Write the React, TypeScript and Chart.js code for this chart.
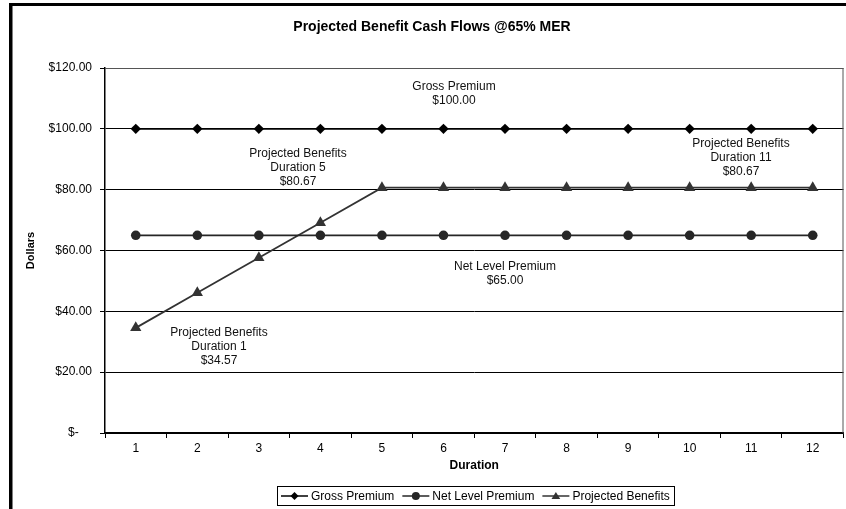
import React, { useEffect, useRef } from "react";
import { Chart, registerables } from "chart.js";

Chart.register(...registerables);

// Policy durations on the x axis
const durations = ["1", "2", "3", "4", "5", "6", "7", "8", "9", "10", "11", "12"];

// Annual cash flows per policy, dollars
const grossPremium = [100, 100, 100, 100, 100, 100, 100, 100, 100, 100, 100, 100];
const netLevelPremium = [65, 65, 65, 65, 65, 65, 65, 65, 65, 65, 65, 65];
const projectedBenefits = [34.57, 46.1, 57.62, 69.15, 80.67, 80.67, 80.67, 80.67, 80.67, 80.67, 80.67, 80.67];

const yMin = 0;
const yMax = 120;
const yStep = 20;

const FONT = "'Liberation Sans', Arial, Helvetica, sans-serif";

const money = (v: number) => "$" + v.toFixed(2);

function drawMarker(ctx: CanvasRenderingContext2D, kind: string, x: number, y: number, r: number, color: string) {
  ctx.save();
  ctx.fillStyle = color;
  ctx.beginPath();
  if (kind === "diamond") {
    ctx.moveTo(x, y - r);
    ctx.lineTo(x + r, y);
    ctx.lineTo(x, y + r);
    ctx.lineTo(x - r, y);
  } else if (kind === "circle") {
    ctx.arc(x, y, r, 0, Math.PI * 2);
  } else {
    ctx.moveTo(x, y - r);
    ctx.lineTo(x + r * 1.1, y + r * 0.75);
    ctx.lineTo(x - r * 1.1, y + r * 0.75);
  }
  ctx.closePath();
  ctx.fill();
  ctx.restore();
}

const decorPlugin = {
  id: "benefitDecor",
  afterDraw(chart: any) {
    const ctx: CanvasRenderingContext2D = chart.ctx;
    const area = chart.chartArea;
    ctx.save();

    // outer frame (left and top edges)
    ctx.fillStyle = "#000";
    ctx.fillRect(9, 3, chart.width - 9, 3);
    ctx.fillRect(9, 3, 3.5, chart.height - 3);

    // plot area outline on top and right
    ctx.strokeStyle = "#555";
    ctx.lineWidth = 1;
    ctx.beginPath();
    ctx.moveTo(area.left, area.top + 0.5);
    ctx.lineTo(area.right - 0.5, area.top + 0.5);
    ctx.lineTo(area.right - 0.5, area.bottom);
    ctx.stroke();

    // title
    ctx.fillStyle = "#000";
    ctx.textAlign = "center";
    ctx.textBaseline = "middle";
    ctx.font = `bold 14px ${FONT}`;
    ctx.fillText("Projected Benefit Cash Flows @65% MER", 432, 27);

    // axis titles
    ctx.font = `bold 12px ${FONT}`;
    ctx.fillText("Duration", (area.left + area.right) / 2, 466);
    ctx.save();
    ctx.font = `bold 11px ${FONT}`;
    ctx.translate(31, (area.top + area.bottom) / 2);
    ctx.rotate(-Math.PI / 2);
    ctx.fillText("Dollars", 0, 0);
    ctx.restore();

    // value call-outs
    ctx.font = `12px ${FONT}`;
    ctx.fillStyle = "#111";
    const note = (lines: string[], x: number, y: number) => {
      lines.forEach((t, i) => ctx.fillText(t, x, y + i * 14));
    };
    note(["Gross Premium", money(grossPremium[0])], 454, 87);
    note(["Projected Benefits", "Duration 5", money(projectedBenefits[4])], 298, 154);
    note(["Projected Benefits", "Duration 11", money(projectedBenefits[10])], 741, 144);
    note(["Net Level Premium", money(netLevelPremium[0])], 505, 267);
    note(["Projected Benefits", "Duration 1", money(projectedBenefits[0])], 219, 333);

    // legend
    const items = chart.data.datasets.map((ds: any) => ({
      label: ds.label,
      color: ds.borderColor,
      kind: ds.pointStyle === "rectRot" ? "diamond" : ds.pointStyle === "circle" ? "circle" : "triangle",
    }));
    const seg = 27;
    const gap = 3;
    const itemGap = 8;
    const pad = 4;
    const widths = items.map((it: any) => ctx.measureText(it.label).width);
    let total = pad * 2 + itemGap * (items.length - 1);
    widths.forEach((w: number) => (total += seg + gap + w));
    const boxLeft = Math.round(475 - total / 2);
    const boxTop = 486.5;
    const boxH = 19;
    ctx.strokeStyle = "#000";
    ctx.lineWidth = 1;
    ctx.strokeRect(boxLeft + 0.5, boxTop, Math.round(total), boxH);
    const cy = boxTop + boxH / 2;
    let x = boxLeft + pad;
    ctx.textAlign = "left";
    items.forEach((it: any, i: number) => {
      ctx.strokeStyle = it.color;
      ctx.lineWidth = 1.5;
      ctx.beginPath();
      ctx.moveTo(x, cy);
      ctx.lineTo(x + seg, cy);
      ctx.stroke();
      drawMarker(ctx, it.kind, x + seg / 2, cy, 4, it.color);
      x += seg + gap;
      ctx.fillStyle = "#000";
      ctx.fillText(it.label, x, cy + 0.5);
      x += widths[i] + itemGap;
    });

    ctx.restore();
  },
};

export default function App() {
  const canvasRef = useRef<HTMLCanvasElement | null>(null);

  useEffect(() => {
    if (!canvasRef.current) return;
    Chart.defaults.font.family = FONT;
    const tickFont = { size: 12, family: FONT };
    const chart = new Chart(canvasRef.current, {
      type: "line",
      data: {
        labels: durations,
        datasets: [
          {
            label: "Gross Premium",
            data: grossPremium,
            borderColor: "#000",
            backgroundColor: "#000",
            borderWidth: 1.8,
            pointStyle: "rectRot",
            pointRadius: 5.2,
            pointBorderWidth: 0,
            tension: 0,
          },
          {
            label: "Net Level Premium",
            data: netLevelPremium,
            borderColor: "#262626",
            backgroundColor: "#262626",
            borderWidth: 1.8,
            pointStyle: "circle",
            pointRadius: 4.8,
            pointBorderWidth: 0,
            tension: 0,
          },
          {
            label: "Projected Benefits",
            data: projectedBenefits,
            borderColor: "#333",
            backgroundColor: "#333",
            borderWidth: 1.8,
            pointStyle: "triangle",
            pointRadius: 6.5,
            pointBorderWidth: 0,
            tension: 0,
          },
        ],
      },
      options: {
        animation: false,
        responsive: false,
        devicePixelRatio: 1,
        layout: { padding: { top: 68, right: 3, left: 0, bottom: 0 } },
        plugins: {
          legend: { display: false },
          title: { display: false },
          tooltip: { enabled: false },
        },
        scales: {
          x: {
            type: "category",
            offset: true,
            grid: {
              offset: true,
              drawOnChartArea: false,
              drawTicks: true,
              tickLength: 5,
              color: "#000",
            },
            border: { color: "#000", width: 1.5 },
            ticks: { font: tickFont, color: "#000", padding: 3, maxRotation: 0, autoSkip: false },
            afterFit: (s: any) => {
              s.height = 76;
            },
          },
          y: {
            min: yMin,
            max: yMax,
            grid: { color: "#000", lineWidth: 1, tickLength: 5 },
            border: { color: "#000", width: 1.5 },
            ticks: {
              stepSize: yStep,
              font: tickFont,
              color: "#000",
              padding: 8,
              callback: (v: any) => (Number(v) === 0 ? "$-    " : money(Number(v))),
            },
            afterFit: (s: any) => {
              s.width = 105;
            },
          },
        },
      },
      plugins: [decorPlugin],
    } as any);
    return () => chart.destroy();
  }, []);

  return (
    <div
      style={{
        position: "fixed",
        left: 0,
        top: 0,
        width: 846,
        height: 509,
        overflow: "hidden",
        background: "#fff",
      }}
    >
      <canvas ref={canvasRef} width={850} height={509} />
    </div>
  );
}
